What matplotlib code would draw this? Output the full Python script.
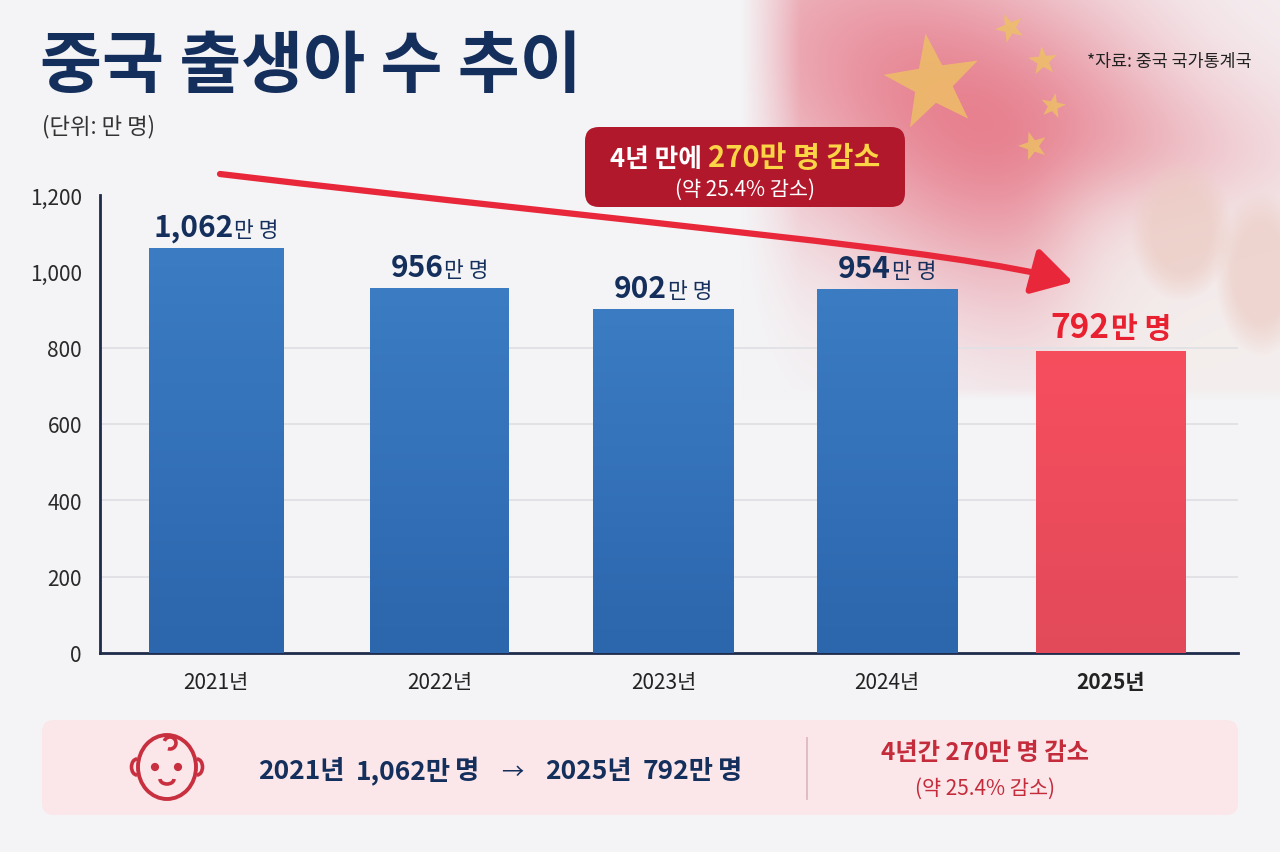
import numpy as np
import matplotlib
matplotlib.use('Agg')
import matplotlib.pyplot as plt
from matplotlib.patches import FancyBboxPatch, FancyArrowPatch, Ellipse, Arc, Polygon, Circle
from matplotlib.colors import LinearSegmentedColormap
from matplotlib.path import Path

plt.rcParams['font.family'] = ['Noto Sans CJK KR', 'DejaVu Sans']

# ---------------- data ----------------
years = ['2021년', '2022년', '2023년', '2024년', '2025년']
births = [1062, 956, 902, 954, 792]            # 만 명
value_labels = ['1,062', '956', '902', '954', '792']
unit_label = '만 명'
yticks = [0, 200, 400, 600, 800, 1000, 1200]
ytick_labels = ['0', '200', '400', '600', '800', '1,000', '1,200']
grid_levels = [200, 400, 600, 800]
title = '중국 출생아 수 추이'
subtitle = '(단위: 만 명)'
source = '*자료: 중국 국가통계국'
callout_white = '4년 만에 '
callout_yellow = '270만 명 감소'
callout_line2 = '(약 25.4% 감소)'
summary_right1 = '4년간 270만 명 감소'
summary_right2 = '(약 25.4% 감소)'

W, H = 1280, 853
NAVY = '#152F5C'
RED_TXT = '#E8202F'
DARK_RED = '#C42B3B'

fig = plt.figure(figsize=(12.8, 8.53), dpi=100)
fig.patch.set_facecolor('#F4F4F6')

# ---------------- decorative background (flag + blanket) ----------------
bg = fig.add_axes([0, 0, 1, 1], zorder=0)
bg.set_xlim(0, W); bg.set_ylim(H, 0); bg.axis('off')

x0, x1, y0, y1 = 740, 1280, 0, 402
xs = np.linspace(x0, x1, 400)
ys = np.linspace(y0, y1, 300)
X, Y = np.meshgrid(xs, ys)
base = np.array([244, 244, 246]) / 255.0
img = np.ones((len(ys), len(xs), 3)) * base

def over(img, color, alpha):
    c = np.array(color) / 255.0
    a = np.clip(alpha, 0, 1)[..., None]
    return img * (1 - a) + c * a

# flag: broad rotated gaussian band
ang = 0.5
u = (X - 985) * np.cos(ang) + (Y - 125) * np.sin(ang)
v = -(X - 985) * np.sin(ang) + (Y - 125) * np.cos(ang)
flag = np.exp(-(u / 320) ** 2 - (v / 165) ** 2) * 0.8
img = over(img, (228, 100, 118), flag)
# lighter upper-right corner
corner = np.exp(-((X - 1260) / 120) ** 2 - ((Y - 20) / 90) ** 2) * 0.45
img = over(img, (246, 236, 238), corner)
# blanket
blanket = 1 / (1 + np.exp(-(X - 1060) / 28)) * 1 / (1 + np.exp(-(Y - 185) / 28))
img = over(img, (244, 239, 238), blanket * 0.95)
# feet (soft pink-beige shapes)
foot1 = np.clip(1.5 - ((X - 1182) / 42) ** 2 - ((Y - 232) / 58) ** 2, 0, 1)
foot2 = np.clip(1.5 - ((X - 1262) / 38) ** 2 - ((Y - 275) / 68) ** 2, 0, 1)
img = over(img, (236, 204, 196), foot1 * 0.75)
img = over(img, (236, 204, 196), foot2 * 0.7)
# fade edges into background
fade = np.clip((X - x0) / 60, 0, 1) * np.clip((y1 - Y) / 12, 0, 1)
img = img * fade[..., None] + base * (1 - fade[..., None])
bg.imshow(img, extent=[x0, x1, y1, y0], aspect='auto', zorder=0, interpolation='bilinear')

def star(cx, cy, R, rot):
    pts = []
    for k in range(10):
        r = R if k % 2 == 0 else R * 0.4
        a = np.pi / 2 + rot + k * np.pi / 5
        pts.append((cx + r * np.cos(a), cy - r * np.sin(a)))
    return pts

for cx, cy, R, rot in [(933, 84, 50, 0.15), (1010, 29, 15, 0.4), (1043, 62, 15, 0.1),
                       (1053, 107, 13, -0.2), (1033, 147, 15, 0.3)]:
    bg.add_patch(Polygon(star(cx, cy, R, rot), closed=True, facecolor='#EEC163',
                         edgecolor='none', alpha=0.8, zorder=2))

# ---------------- chart axes ----------------
ax = fig.add_axes([100 / W, 1 - 654 / H, (1238 - 100) / W, (654 - 196) / H], zorder=2)
ax.patch.set_alpha(0)
xpos = np.arange(len(years))
ax.set_xlim(-0.518, 4.568)
ax.set_ylim(0, 1200)

ax.hlines(grid_levels, -0.518, 4.568, colors='#E1E1E5', linewidth=1.3, zorder=1)

bar_colors = [('#3B7CC3', '#2C66AD')] * 4 + [('#F74E5E', '#E24A5A')]
widths = [0.60, 0.62, 0.63, 0.63, 0.67]
for i, (xi, val) in enumerate(zip(xpos, births)):
    top_c, bot_c = bar_colors[i]
    w = widths[i]
    b = ax.bar(xi, val, width=w, color=bot_c, zorder=3, linewidth=0)[0]
    cmap = LinearSegmentedColormap.from_list('g%d' % i, [bot_c, top_c])
    grad = np.linspace(1, 0, 200).reshape(-1, 1)
    im = ax.imshow(grad, extent=[xi - w / 2, xi + w / 2, 0, val], aspect='auto',
                   cmap=cmap, zorder=3.5, interpolation='bilinear')
    im.set_clip_path(b)
ax.set_xlim(-0.518, 4.568)
ax.set_ylim(0, 1200)

ax.set_yticks(yticks)
ax.set_yticklabels(ytick_labels, fontsize=15, color='#2A2A2A')
ax.set_xticks(xpos)
ax.set_xticklabels(years, fontsize=15, color='#222222')
ax.get_xticklabels()[-1].set_fontweight('bold')
ax.tick_params(axis='both', length=0)
ax.tick_params(axis='y', pad=13)
ax.tick_params(axis='x', pad=13)
for s in ['top', 'right']:
    ax.spines[s].set_visible(False)
for s in ['left', 'bottom']:
    ax.spines[s].set_color('#1E2B4A')
    ax.spines[s].set_linewidth(2)

# ---------------- overlay (pixel coordinates, y down) ----------------
ov = fig.add_axes([0, 0, 1, 1], zorder=5)
ov.set_xlim(0, W); ov.set_ylim(H, 0); ov.axis('off')
ov.patch.set_alpha(0)

renderer = fig.canvas.get_renderer()

def rich(x, y, parts, ha='center'):
    """parts: (text, size, color, weight, gap_before_px)"""
    texts, widths_ = [], []
    for s, size, color, weight, gap in parts:
        t = ov.text(0, y, s, fontsize=size, color=color, fontweight=weight,
                    va='baseline', ha='left', zorder=10)
        texts.append((t, gap))
        widths_.append(t.get_window_extent(renderer).width)
    total = sum(widths_) + sum(g for _, g in texts)
    start = x - total / 2 if ha == 'center' else x
    for (t, gap), w in zip(texts, widths_):
        start += gap
        t.set_x(start)
        start += w

# title, subtitle, source
ov.text(40, 67, title, fontsize=48.5, fontweight='heavy', color=NAVY, va='center', ha='left')
ov.text(42, 127, subtitle, fontsize=16, color='#333333', va='center', ha='left')
ov.text(1252, 62, source, fontsize=12.5, color='#222222', va='center', ha='right')

# bar value labels
for i, (xi, val) in enumerate(zip(xpos, births)):
    px = ax.transData.transform((xi, val))
    cx, cy = ov.transData.inverted().transform(px)
    if i == len(births) - 1:
        rich(cx, cy - 14, [(value_labels[i], 24, RED_TXT, 'bold', 0),
                           (unit_label, 21, RED_TXT, 'bold', 1)])
    else:
        rich(cx, cy - 12, [(value_labels[i], 21.5, NAVY, 'bold', 0),
                           (unit_label, 15.5, NAVY, 'medium', 1)])

# arrow (cubic curve, bending down at the end)
arrow_path = Path([(220, 175), (650, 226), (950, 250), (1073, 283)],
                  [Path.MOVETO, Path.CURVE4, Path.CURVE4, Path.CURVE4])
arr = FancyArrowPatch(path=arrow_path,
                      arrowstyle='-|>,head_length=9.5,head_width=5.5', mutation_scale=2.6,
                      color='#E8283A', linewidth=4.5, zorder=6)
ov.add_patch(arr)

# callout box
ov.add_patch(FancyBboxPatch((585, 128), 320, 80, boxstyle='round,pad=0,rounding_size=14',
                            facecolor='#B1182B', edgecolor='none', zorder=7))
rich(745, 167, [(callout_white, 18.5, 'white', 'bold', 0),
                (callout_yellow, 21, '#FBD545', 'bold', 0)])
ov.text(745, 190, callout_line2, fontsize=15, color='white', fontweight='medium',
        ha='center', va='center', zorder=10)

# bottom summary panel
ov.add_patch(FancyBboxPatch((42, 721), 1196, 95, boxstyle='round,pad=0,rounding_size=12',
                            facecolor='#FBE6EA', edgecolor='none', zorder=1))
ic = '#C8303F'
ov.add_patch(Ellipse((167, 768), 58, 64, fill=False, edgecolor=ic, linewidth=2.8, zorder=3))
ov.add_patch(Arc((137, 768), 11, 16, theta1=90, theta2=270, edgecolor=ic, linewidth=2.6, zorder=3))
ov.add_patch(Arc((197, 768), 11, 16, theta1=-90, theta2=90, edgecolor=ic, linewidth=2.6, zorder=3))
ov.add_patch(Circle((155, 768), 3.4, color=ic, zorder=3))
ov.add_patch(Circle((178, 768), 3.4, color=ic, zorder=3))
ov.add_patch(Arc((167, 780), 14, 10, theta1=0, theta2=180, edgecolor=ic, linewidth=2.6, zorder=3))
ov.add_patch(Arc((170, 744), 12, 12, theta1=200, theta2=110, edgecolor=ic, linewidth=2.6, zorder=3))

rich(500, 779, [('2021년', 19, NAVY, 'bold', 0),
                (value_labels[0] + unit_label[0], 19, NAVY, 'bold', 11),
                (unit_label[2:], 19, NAVY, 'bold', 4),
                ('→', 16, NAVY, 'normal', 22),
                ('2025년', 19, NAVY, 'bold', 22),
                (value_labels[-1] + unit_label[0], 19, NAVY, 'bold', 11),
                (unit_label[2:], 19, NAVY, 'bold', 4)])
ov.plot([807, 807], [739, 800], color='#DDB9BE', linewidth=1.3, zorder=3)
ov.text(985, 753, summary_right1, fontsize=17.5, fontweight='bold', color=DARK_RED,
        ha='center', va='center', zorder=3)
ov.text(985, 789, summary_right2, fontsize=15, color=DARK_RED, fontweight='medium',
        ha='center', va='center', zorder=3)

fig.savefig('out.png', dpi=100, facecolor=fig.get_facecolor())
